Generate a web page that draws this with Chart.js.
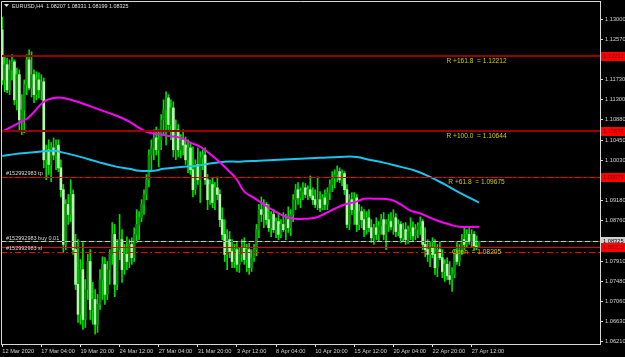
<!DOCTYPE html>
<html><head><meta charset="utf-8">
<script src="https://cdn.jsdelivr.net/npm/chart.js@4/dist/chart.umd.min.js"></script>
<style>html,body{margin:0;padding:0;background:#000;overflow:hidden}#wrap{position:relative;width:625px;height:357px}</style>
</head><body><div id="wrap"><canvas id="c" width="625" height="357"></canvas></div>
<script>
// ---------- DATA ----------
const opens=[1.1277,1.1172,1.1204,1.1151,1.1193,1.1210,1.1130,1.1183,1.1088,1.1109,
1.1162,1.1214,1.1155,1.1183,1.1141,1.1172,1.1151,1.1168,1.1004,1.1025,
1.0994,1.1029,1.1014,1.1035,1.0987,1.0941,1.0826,1.0910,1.0889,1.0931,
1.0815,1.0742,1.0679,1.0773,1.0668,1.0731,1.0790,1.0689,1.0710,1.0658,
1.0700,1.0752,1.0784,1.0721,1.0773,1.0805,1.0847,1.0742,1.0815,1.0836,
1.0773,1.0805,1.0790,1.0826,1.0798,1.0847,1.0868,1.0882,1.0910,1.0931,
1.0962,1.1014,1.1029,1.1050,1.1025,1.1046,1.1088,1.1109,1.1134,1.1078,
1.1113,1.1025,1.1067,1.1025,1.1046,1.1035,1.1004,1.1029,1.0983,1.0941,
1.0994,1.0962,1.1008,1.1014,1.0962,1.0920,1.0952,1.0914,1.0945,1.0931,
1.0878,1.0847,1.0805,1.0836,1.0811,1.0790,1.0815,1.0784,1.0805,1.0819,
1.0794,1.0815,1.0777,1.0798,1.0815,1.0857,1.0899,1.0889,1.0910,1.0878,
1.0861,1.0889,1.0857,1.0874,1.0847,1.0868,1.0857,1.0878,1.0861,1.0889,
1.0920,1.0941,1.0924,1.0937,1.0945,1.0931,1.0941,1.0928,1.0920,1.0910,
1.0920,1.0903,1.0924,1.0910,1.0935,1.0952,1.0966,1.0973,1.0979,1.0962,
1.0975,1.0941,1.0868,1.0920,1.0899,1.0924,1.0868,1.0895,1.0878,1.0857,
1.0882,1.0861,1.0840,1.0861,1.0847,1.0865,1.0878,1.0847,1.0868,1.0874,
1.0863,1.0882,1.0853,1.0868,1.0840,1.0857,1.0836,1.0853,1.0861,1.0844,
1.0857,1.0865,1.0874,1.0826,1.0815,1.0805,1.0819,1.0805,1.0777,1.0815,
1.0798,1.0769,1.0784,1.0760,1.0752,1.0763,1.0805,1.0790,1.0815,1.0836,
1.0826,1.0847,1.0832,1.0847,1.0823,1.08207];
const highs=[1.1304,1.1220,1.1218,1.1214,1.1225,1.1214,1.1197,1.1193,1.1141,1.1172,
1.1225,1.1235,1.1231,1.1193,1.1189,1.1187,1.1183,1.1176,1.1035,1.1046,
1.1040,1.1050,1.1046,1.1046,1.1004,1.0952,1.0920,1.0931,1.0962,1.0941,
1.0847,1.0836,1.0794,1.0830,1.0752,1.0805,1.0815,1.0746,1.0731,1.0721,
1.0773,1.0800,1.0798,1.0790,1.0815,1.0872,1.0868,1.0836,1.0889,1.0857,
1.0826,1.0842,1.0836,1.0840,1.0861,1.0899,1.0895,1.0920,1.0941,1.0973,
1.1025,1.1046,1.1067,1.1073,1.1067,1.1099,1.1130,1.1147,1.1141,1.1130,
1.1126,1.1088,1.1078,1.1057,1.1067,1.1052,1.1046,1.1040,1.1031,1.1004,
1.1029,1.1021,1.1025,1.1029,1.0973,1.0962,1.0966,1.0956,1.0968,1.0941,
1.0903,1.0878,1.0857,1.0853,1.0836,1.0826,1.0830,1.0819,1.0836,1.0840,
1.0826,1.0828,1.0815,1.0826,1.0868,1.0910,1.0926,1.0920,1.0914,1.0910,
1.0895,1.0899,1.0882,1.0889,1.0878,1.0893,1.0889,1.0905,1.0899,1.0931,
1.0952,1.0956,1.0945,1.0956,1.0954,1.0949,1.0970,1.0945,1.0941,1.0968,
1.0937,1.0931,1.0941,1.0945,1.0962,1.0979,1.0983,1.0991,1.0987,1.0983,
1.0979,1.0952,1.0931,1.0935,1.0935,1.0931,1.0910,1.0905,1.0899,1.0895,
1.0899,1.0878,1.0868,1.0882,1.0874,1.0889,1.0893,1.0878,1.0889,1.0893,
1.0899,1.0891,1.0878,1.0874,1.0870,1.0872,1.0865,1.0882,1.0874,1.0868,
1.0872,1.0884,1.0878,1.0861,1.0836,1.0830,1.0840,1.0836,1.0826,1.0832,
1.0815,1.0794,1.0798,1.0790,1.0777,1.0815,1.0830,1.0826,1.0847,1.0861,
1.0857,1.0861,1.0857,1.0853,1.0844,1.08331];
const lows=[1.1162,1.1147,1.1145,1.1141,1.1172,1.1120,1.1109,1.1067,1.1057,1.1061,
1.1141,1.1151,1.1136,1.1124,1.1130,1.1134,1.1130,1.0987,1.0962,1.0973,
1.0958,1.1004,1.0983,1.0979,1.0926,1.0809,1.0815,1.0868,1.0874,1.0805,
1.0731,1.0662,1.0658,1.0647,1.0651,1.0710,1.0668,1.0658,1.0637,1.0641,
1.0689,1.0710,1.0700,1.0710,1.0742,1.0784,1.0716,1.0731,1.0794,1.0746,
1.0763,1.0773,1.0777,1.0784,1.0790,1.0830,1.0836,1.0874,1.0889,1.0920,
1.0947,1.0983,1.1004,1.1014,1.0989,1.1025,1.1057,1.1035,1.1067,1.1046,
1.1010,1.1004,1.1010,1.1008,1.1014,1.0994,1.0977,1.0973,1.0926,1.0931,
1.0952,1.0914,1.0983,1.0952,1.0899,1.0910,1.0903,1.0899,1.0920,1.0863,
1.0836,1.0790,1.0773,1.0798,1.0777,1.0777,1.0769,1.0767,1.0790,1.0784,
1.0769,1.0763,1.0769,1.0790,1.0802,1.0840,1.0874,1.0861,1.0868,1.0853,
1.0842,1.0851,1.0840,1.0836,1.0840,1.0853,1.0836,1.0851,1.0844,1.0874,
1.0899,1.0910,1.0903,1.0920,1.0924,1.0920,1.0924,1.0910,1.0903,1.0899,
1.0895,1.0899,1.0899,1.0899,1.0920,1.0937,1.0945,1.0958,1.0956,1.0949,
1.0931,1.0861,1.0857,1.0889,1.0868,1.0853,1.0857,1.0861,1.0842,1.0847,
1.0853,1.0830,1.0826,1.0836,1.0832,1.0847,1.0836,1.0815,1.0853,1.0857,
1.0847,1.0842,1.0844,1.0830,1.0832,1.0826,1.0828,1.0836,1.0832,1.0836,
1.0840,1.0847,1.0815,1.0800,1.0790,1.0779,1.0798,1.0763,1.0758,1.0794,
1.0756,1.0748,1.0752,1.0742,1.0727,1.0756,1.0784,1.0781,1.0805,1.0815,
1.0819,1.0826,1.0819,1.0815,1.0815,1.08199];
const closes=[1.1172,1.1204,1.1151,1.1193,1.1210,1.1130,1.1183,1.1088,1.1109,1.1162,
1.1214,1.1155,1.1183,1.1141,1.1172,1.1151,1.1168,1.1004,1.1025,1.0994,
1.1029,1.1014,1.1035,1.0987,1.0941,1.0826,1.0910,1.0889,1.0931,1.0815,
1.0742,1.0679,1.0773,1.0668,1.0731,1.0790,1.0689,1.0710,1.0658,1.0700,
1.0752,1.0784,1.0721,1.0773,1.0805,1.0847,1.0742,1.0815,1.0836,1.0773,
1.0805,1.0790,1.0826,1.0798,1.0847,1.0868,1.0882,1.0910,1.0931,1.0962,
1.1014,1.1029,1.1050,1.1025,1.1046,1.1088,1.1109,1.1134,1.1078,1.1113,
1.1025,1.1067,1.1025,1.1046,1.1035,1.1004,1.1029,1.0983,1.0941,1.0994,
1.0962,1.1008,1.1014,1.0962,1.0920,1.0952,1.0914,1.0945,1.0931,1.0878,
1.0847,1.0805,1.0836,1.0811,1.0790,1.0815,1.0784,1.0805,1.0819,1.0794,
1.0815,1.0777,1.0798,1.0815,1.0857,1.0899,1.0889,1.0910,1.0878,1.0861,
1.0889,1.0857,1.0874,1.0847,1.0868,1.0857,1.0878,1.0861,1.0889,1.0920,
1.0941,1.0924,1.0937,1.0945,1.0931,1.0941,1.0928,1.0920,1.0910,1.0920,
1.0903,1.0924,1.0910,1.0935,1.0952,1.0966,1.0973,1.0979,1.0962,1.0975,
1.0941,1.0868,1.0920,1.0899,1.0924,1.0868,1.0895,1.0878,1.0857,1.0882,
1.0861,1.0840,1.0861,1.0847,1.0865,1.0878,1.0847,1.0868,1.0874,1.0863,
1.0882,1.0853,1.0868,1.0840,1.0857,1.0836,1.0853,1.0861,1.0844,1.0857,
1.0865,1.0874,1.0826,1.0815,1.0805,1.0819,1.0805,1.0777,1.0815,1.0798,
1.0769,1.0784,1.0760,1.0752,1.0763,1.0805,1.0790,1.0815,1.0836,1.0826,
1.0847,1.0832,1.0847,1.0823,1.0821,1.08325];
// moving averages: [bar index, value]
const maMagenta=[[0,1.1063],[7,1.1082],[11,1.1094],[17,1.1126],[21,1.1134],[25,1.1134],[32,1.1124],[40,1.1109],[47,1.1096],[52,1.1084],[56,1.1071],[60,1.1061],[64,1.1058],[68,1.1054],[73,1.1050],[77,1.1040],[81,1.1031],[85,1.1016],[89,1.0999],[93,1.0979],[96,1.0962],[99,1.0937],[103,1.0924],[107,1.0910],[111,1.0897],[116,1.0884],[120,1.0880],[124,1.0880],[128,1.0882],[132,1.0891],[136,1.0901],[140,1.0910],[145,1.0916],[148,1.0922],[152,1.0922],[159,1.0920],[163,1.0910],[167,1.0897],[171,1.0891],[175,1.0882],[179,1.0874],[183,1.0868],[187,1.0863],[195,1.0863]];
const maCyan=[[0,1.1012],[7,1.1017],[15,1.1021],[21,1.1023],[25,1.1019],[32,1.1010],[40,1.0998],[47,1.0989],[52,1.0985],[56,1.0981],[62,1.0981],[66,1.0985],[73,1.0989],[79,1.0991],[85,1.0996],[91,1.1000],[97,1.1000],[105,1.1002],[113,1.1004],[122,1.1006],[130,1.1008],[138,1.1010],[145,1.1010],[150,1.1004],[156,1.0998],[163,1.0989],[169,1.0981],[175,1.0968],[181,1.0952],[187,1.0935],[195,1.0914]];
const totalSlots=245;
const timeLabels=['12 Mar 2020','17 Mar 04:00','19 Mar 20:00','24 Mar 12:00','27 Mar 04:00','31 Mar 20:00','3 Apr 12:00','8 Apr 04:00','10 Apr 20:00','15 Apr 12:00','20 Apr 04:00','22 Apr 20:00','27 Apr 12:00'];
const timeLabelBars=[0,16,32,48,64,80,96,112,128,144,160,176,192];
const priceTicks=[1.13000,1.12570,1.12140,1.11730,1.11300,1.10880,1.10450,1.10030,1.09600,1.09180,1.08760,1.08340,1.07910,1.07480,1.07060,1.06630,1.06210];
const yMin=1.06165, yMax=1.13379;
const fiboLevels=[1.12212,1.10644,1.09675,1.08205];
const fiboTexts=['R +161.8  = 1.12212','R +100.0  = 1.10644','R +61.8  = 1.09675','Open  = 1.08205'];
const bidPrice=1.08325, tpPrice=1.09675, slPrice=1.0811;
const orderId='#152992983';
const titleText='EURUSD,H4  1.08207 1.08331 1.08199 1.08325';

// ---------- BUILD ----------
const FONT='"Liberation Sans", Arial, sans-serif';
const FS=5.7;
const slotLabels=[];
for(let i=0;i<totalSlots;i++){const k=timeLabelBars.indexOf(i);slotLabels.push(k>=0?timeLabels[k]:'');}
function sparse(pts){const a=new Array(totalSlots).fill(null);pts.forEach(p=>{a[p[0]]=p[1];});return a;}
const wickData=lows.map((l,i)=>[l,highs[i]]);
const bodyData=opens.map((o,i)=>[o,closes[i]]);
const bodyColors=opens.map((o,i)=>closes[i]>=o?'#0b8f0b':'#b4f8ac');

const overlay={
  id:'overlay',
  afterDatasetsDraw(chart){
    const {ctx,chartArea:a,scales:{x,y}}=chart;
    ctx.save();
    ctx.beginPath();ctx.rect(a.left,a.top,a.right-a.left,a.bottom-a.top);ctx.clip();
    function hline(v,color,w,dash){
      const py=Math.round(y.getPixelForValue(v))+(w%2?0.5:0);
      ctx.strokeStyle=color;ctx.lineWidth=w;ctx.setLineDash(dash||[]);
      ctx.beginPath();ctx.moveTo(a.left,py);ctx.lineTo(a.right,py);ctx.stroke();
    }
    hline(fiboLevels[0],'#990000',2);
    hline(fiboLevels[1],'#990000',2);
    hline(fiboLevels[2],'#990000',1);
    hline(fiboLevels[3],'#ee0000',1);
    hline(tpPrice,'#ff0000',1,[6,3,2,3]);
    hline(slPrice,'#ff0000',1,[6,3,2,3]);
    hline(bidPrice,'#555555',1);
    hline(bidPrice,'#96e896',1,[5,3]);
    ctx.restore();
  },
  afterDraw(chart){
    const {ctx,chartArea:a,scales:{x,y}}=chart;
    ctx.save();
    // frame
    ctx.strokeStyle='#d8d8d8';ctx.lineWidth=1;ctx.setLineDash([]);
    ctx.beginPath();ctx.moveTo(a.left+0.5,a.bottom);ctx.lineTo(a.left+0.5,a.top+0.5);ctx.lineTo(a.right,a.top+0.5);ctx.stroke();
    // title
    ctx.font='5.4px '+FONT;
    ctx.fillStyle='#e0e0e0';
    ctx.beginPath();ctx.moveTo(4,4);ctx.lineTo(9,4);ctx.lineTo(6.5,7);ctx.closePath();ctx.fill();
    ctx.textBaseline='middle';ctx.textAlign='left';
    ctx.fillText(titleText,12,6.5);
    // fibo texts
    ctx.font='6.6px '+FONT;
    ctx.fillStyle='#cccc00';ctx.textAlign='center';ctx.textBaseline='top';
    const fx=x.getPixelForValue(194);
    fiboLevels.forEach((v,i)=>{ctx.fillText(fiboTexts[i],fx,y.getPixelForValue(v)+1.5);});
    // order texts
    ctx.font='5.5px '+FONT;
    ctx.fillStyle='#d8d8d8';ctx.textAlign='left';ctx.textBaseline='bottom';
    ctx.fillText(orderId+' tp',6,y.getPixelForValue(tpPrice)-0.5);
    ctx.fillText(orderId+' buy 0.01',6,y.getPixelForValue(bidPrice)-0.5);
    ctx.fillText(orderId+' sl',6,y.getPixelForValue(slPrice)-0.5);
    // price boxes on the right axis
    ctx.font=FS+'px '+FONT;
    function box(v,bg,fg,txt){
      const py=Math.round(y.getPixelForValue(v));
      ctx.fillStyle=bg;ctx.fillRect(a.right+1,py-4,625-a.right-1,9);
      ctx.fillStyle=fg;ctx.textAlign='left';ctx.textBaseline='middle';
      ctx.fillText(txt,a.right+3,py+0.5);
    }
    box(fiboLevels[0],'#ff0000','#7a0000','1.12212');
    box(fiboLevels[1],'#ff0000','#7a0000','1.10644');
    box(fiboLevels[2],'#ff0000','#7a0000','1.09675');
    box(bidPrice,'#d0d0d0','#000000','1.08325');
    box(fiboLevels[3],'#ff0000','#7a0000','1.08205');
    ctx.restore();
  }
};

new Chart(document.getElementById('c'),{
  type:'bar',
  data:{
    labels:slotLabels,
    datasets:[
      {type:'line',data:sparse(maMagenta),borderColor:'#ff00ff',borderWidth:2,pointRadius:0,spanGaps:true,tension:0.4,order:0},
      {type:'line',data:sparse(maCyan),borderColor:'#18c4f0',borderWidth:2,pointRadius:0,spanGaps:true,tension:0.4,order:0},
      {data:bodyData,backgroundColor:bodyColors,barThickness:2,grouped:false,borderWidth:0,order:1},
      {data:wickData,backgroundColor:'#00e000',barThickness:1,grouped:false,borderWidth:0,order:2}
    ]
  },
  options:{
    responsive:false,animation:false,devicePixelRatio:1,
    layout:{padding:{left:1,top:1,right:0,bottom:0}},
    plugins:{legend:{display:false},tooltip:{enabled:false},title:{display:false}},
    scales:{
      x:{
        type:'category',offset:true,
        grid:{display:true,drawOnChartArea:false,offset:false,tickLength:3,
          tickColor:(c)=>timeLabelBars.indexOf(c.index)>=0?'#d8d8d8':'rgba(0,0,0,0)'},
        border:{display:true,color:'#d8d8d8'},
        ticks:{autoSkip:false,maxRotation:0,minRotation:0,align:'start',padding:1,color:'#d0d0d0',font:{family:FONT,size:FS}},
        afterFit:(s)=>{s.height=13;s.paddingLeft=0;s.paddingRight=0;}
      },
      y:{
        type:'linear',position:'right',min:yMin,max:yMax,
        afterBuildTicks:(s)=>{s.ticks=priceTicks.map(v=>({value:v}));},
        grid:{display:true,drawOnChartArea:false,tickLength:3,tickColor:'#d8d8d8'},
        border:{display:true,color:'#d8d8d8'},
        ticks:{padding:2,color:'#d0d0d0',font:{family:FONT,size:FS},callback:(v)=>Number(v).toFixed(5)},
        afterFit:(s)=>{s.width=25;s.paddingTop=0;s.paddingBottom=0;}
      }
    }
  },
  plugins:[overlay]
});
</script>
</body></html>
